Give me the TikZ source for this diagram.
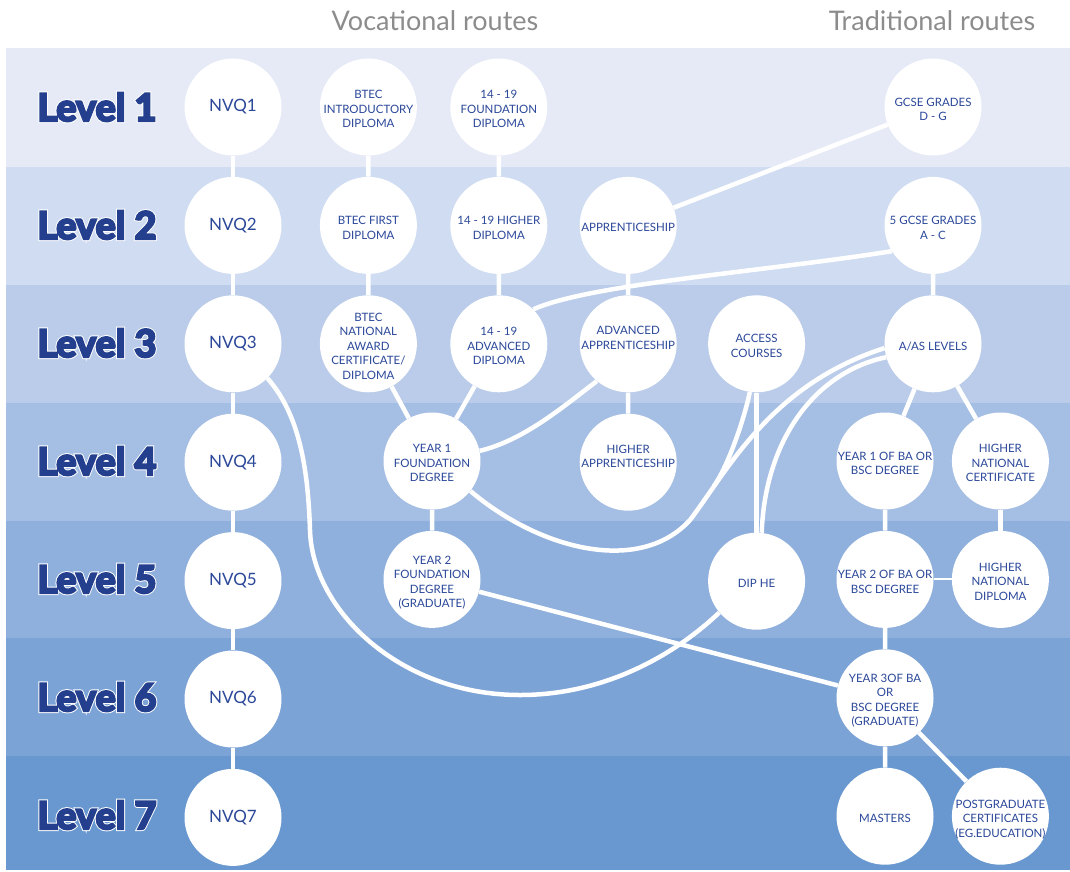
\documentclass[tikz,border=0pt]{standalone}
\usepackage{fontspec}
\setmainfont{Lato}
\newfontfamily\lvlfont{Lato}[BoldFeatures={FakeBold=6}]
\newfontfamily\lvledge{Lato}[BoldFeatures={FakeBold=11}]
\usetikzlibrary{positioning}

\definecolor{bandA}{HTML}{E5EAF6}
\definecolor{bandB}{HTML}{CFDCF1}
\definecolor{bandC}{HTML}{BACCE9}
\definecolor{bandD}{HTML}{A5BEE3}
\definecolor{bandE}{HTML}{8FAFDC}
\definecolor{bandF}{HTML}{7CA3D6}
\definecolor{bandG}{HTML}{6898CF}
\definecolor{navy}{HTML}{2B4899}
\definecolor{lvlblue}{HTML}{233F8D}
\definecolor{routegray}{HTML}{8C8C8C}

\newcommand\disc[2][0pt]{\smash{\makebox[0pt]{\raisebox{\dimexpr-6.5pt+#1\relax}{\begin{tabular}{@{}c@{}}#2\end{tabular}}}}}
\newcommand\lvltxt[1]{\makebox[0pt][l]{\lvledge\bfseries\color{white}#1}{\lvlfont\bfseries#1}}

\tikzset{
  qual/.style={circle, fill=white, minimum size=97pt, inner sep=0pt, text=navy, font=\fontsize{11.5}{14.5}\selectfont},
  nvqbox/.style={qual, font=\fontsize{17}{20}\selectfont},
  lvl/.style={text=lvlblue, font=\fontsize{38}{44}\selectfont},
  route/.style={text=routegray, font=\fontsize{27}{32}\selectfont},
  link/.style={white, line width=4.5pt},
  thinlink/.style={white, line width=2pt},
}

\begin{document}
\begin{tikzpicture}[x=1pt,y=-1pt,node distance=21pt]
\useasboundingbox (0,0) rectangle (1070,871);
\fill[bandA] (6,48) rectangle (1070,167);
\fill[bandB] (6,167) rectangle (1070,285);
\fill[bandC] (6,285) rectangle (1070,403);
\fill[bandD] (6,403) rectangle (1070,521);
\fill[bandE] (6,521) rectangle (1070,638);
\fill[bandF] (6,638) rectangle (1070,756);
\fill[bandG] (6,756) rectangle (1070,870);

\node[route](voc) at (435,21){Vocational routes};
\node[route](trad) at (932,21){Traditional routes};

\node[lvl](lv1) at (97,107){\lvltxt{Level 1}};
\node[lvl](lv2) at (97,225){\lvltxt{Level 2}};
\node[lvl](lv3) at (97,343){\lvltxt{Level 3}};
\node[lvl](lv4) at (97,461){\lvltxt{Level 4}};
\node[lvl](lv5) at (97,579){\lvltxt{Level 5}};
\node[lvl](lv6) at (97,697){\lvltxt{Level 6}};
\node[lvl](lv7) at (97,815){\lvltxt{Level 7}};

\node[nvqbox](nvq1) at (233,107){NVQ1};
\node[nvqbox, below=of nvq1](nvq2){NVQ2};
\node[nvqbox, below=of nvq2](nvq3){NVQ3};
\node[nvqbox, below=of nvq3](nvq4){NVQ4};
\node[nvqbox, below=of nvq4](nvq5){NVQ5};
\node[nvqbox, below=of nvq5](nvq6){NVQ6};
\node[nvqbox, below=of nvq6](nvq7){NVQ7};

\node[qual, right=38pt of nvq1](btec1){\disc{BTEC\\INTRODUCTORY\\DIPLOMA}};
\node[qual, below=of btec1](btec2){\disc{BTEC FIRST\\DIPLOMA}};
\node[qual, below=of btec2](btec3){\disc{BTEC\\NATIONAL\\AWARD\\CERTIFICATE/\\DIPLOMA}};
\node[qual, right=33pt of btec1](fd1419){\disc{14 - 19\\FOUNDATION\\DIPLOMA}};
\node[qual, below=of fd1419](hd1419){\disc{14 - 19 HIGHER\\DIPLOMA}};
\node[qual, below=of hd1419](ad1419){\disc{14 - 19\\ADVANCED\\DIPLOMA}};
\node[qual, right=32pt of hd1419](appr){\disc{APPRENTICESHIP}};
\node[qual, below=of appr](advappr){\disc[8pt]{ADVANCED\\APPRENTICESHIP}};
\node[qual, below=of advappr](hiappr){\disc[8pt]{HIGHER\\APPRENTICESHIP}};
\node[qual, right=31pt of advappr](access){\disc{ACCESS\\COURSES}};
\node[qual, below=140pt of access](diphe){\disc{DIP HE}};
\node[qual](fdy1) at (432,461){\disc{YEAR 1\\FOUNDATION\\DEGREE}};
\node[qual, below=of fdy1](fdy2){\disc{YEAR 2\\FOUNDATION\\DEGREE\\(GRADUATE)}};

\node[qual](gcse1) at (933,107){\disc{GCSE GRADES\\D - G}};
\node[qual, below=of gcse1](gcse5){\disc{5 GCSE GRADES\\A - C}};
\node[qual, below=of gcse5](alevel){\disc{A/AS LEVELS}};
\node[qual](bay1) at (885,461){\disc{YEAR 1 OF BA OR\\BSC DEGREE}};
\node[qual, below=of bay1](bay2){\disc{YEAR 2 OF BA OR\\BSC DEGREE}};
\node[qual, below=of bay2](bay3){\disc{YEAR 3OF BA\\OR\\BSC DEGREE\\(GRADUATE)}};
\node[qual, below=of bay3](masters){\disc{MASTERS}};
\node[qual, right=18pt of bay1](hnc){\disc{HIGHER\\NATIONAL\\CERTIFICATE}};
\node[qual, below=of hnc](hnd){\disc{HIGHER\\NATIONAL\\DIPLOMA}};
\node[qual, right=18pt of masters](pgc){\disc{POSTGRADUATE\\CERTIFICATES\\(EG.EDUCATION)}};

\draw[link](nvq1)--(nvq2) (nvq2)--(nvq3) (nvq3)--(nvq4) (nvq4)--(nvq5) (nvq5)--(nvq6) (nvq6)--(nvq7);
\draw[link](btec1)--(btec2) (btec2)--(btec3) (btec3)--(fdy1);
\draw[link](fd1419)--(hd1419) (hd1419)--(ad1419) (ad1419)--(fdy1);
\draw[link](fdy1)--(fdy2) (fdy2)--(bay3);
\draw[link](appr)--(gcse1) (appr)--(advappr) (advappr)--(hiappr);
\draw[link](gcse5)--(alevel) (alevel)--(bay1) (alevel)--(hnc);
\draw[link](bay1)--(bay2) (bay2)--(bay3) (bay3)--(masters) (bay3)--(pgc);
\draw[link](hnc)--(hnd);
\draw[thinlink](bay2)--(hnd);
\draw[link](access)--(diphe);
\draw[link](ad1419.45) .. controls (590,284) and (760,272) .. (gcse5.212);
\draw[link](advappr.230) .. controls (565,405) and (525,440) .. (fdy1.12);
\draw[link](fdy1.-38) .. controls (540,550) and (640,575) .. (690,520) .. controls (728,470) and (770,385) .. (alevel.185);
\draw[link](access.-98) .. controls (744,420) and (728,466) .. (714,486);
\draw[link](alevel.196) .. controls (815,372) and (765,440) .. (diphe.84);
\draw[link](nvq3.-45) .. controls (300,415) and (308,470) .. (310,530) .. controls (312,610) and (400,695) .. (520,695) .. controls (610,695) and (680,650) .. (diphe.220);
\end{tikzpicture}
\end{document}
